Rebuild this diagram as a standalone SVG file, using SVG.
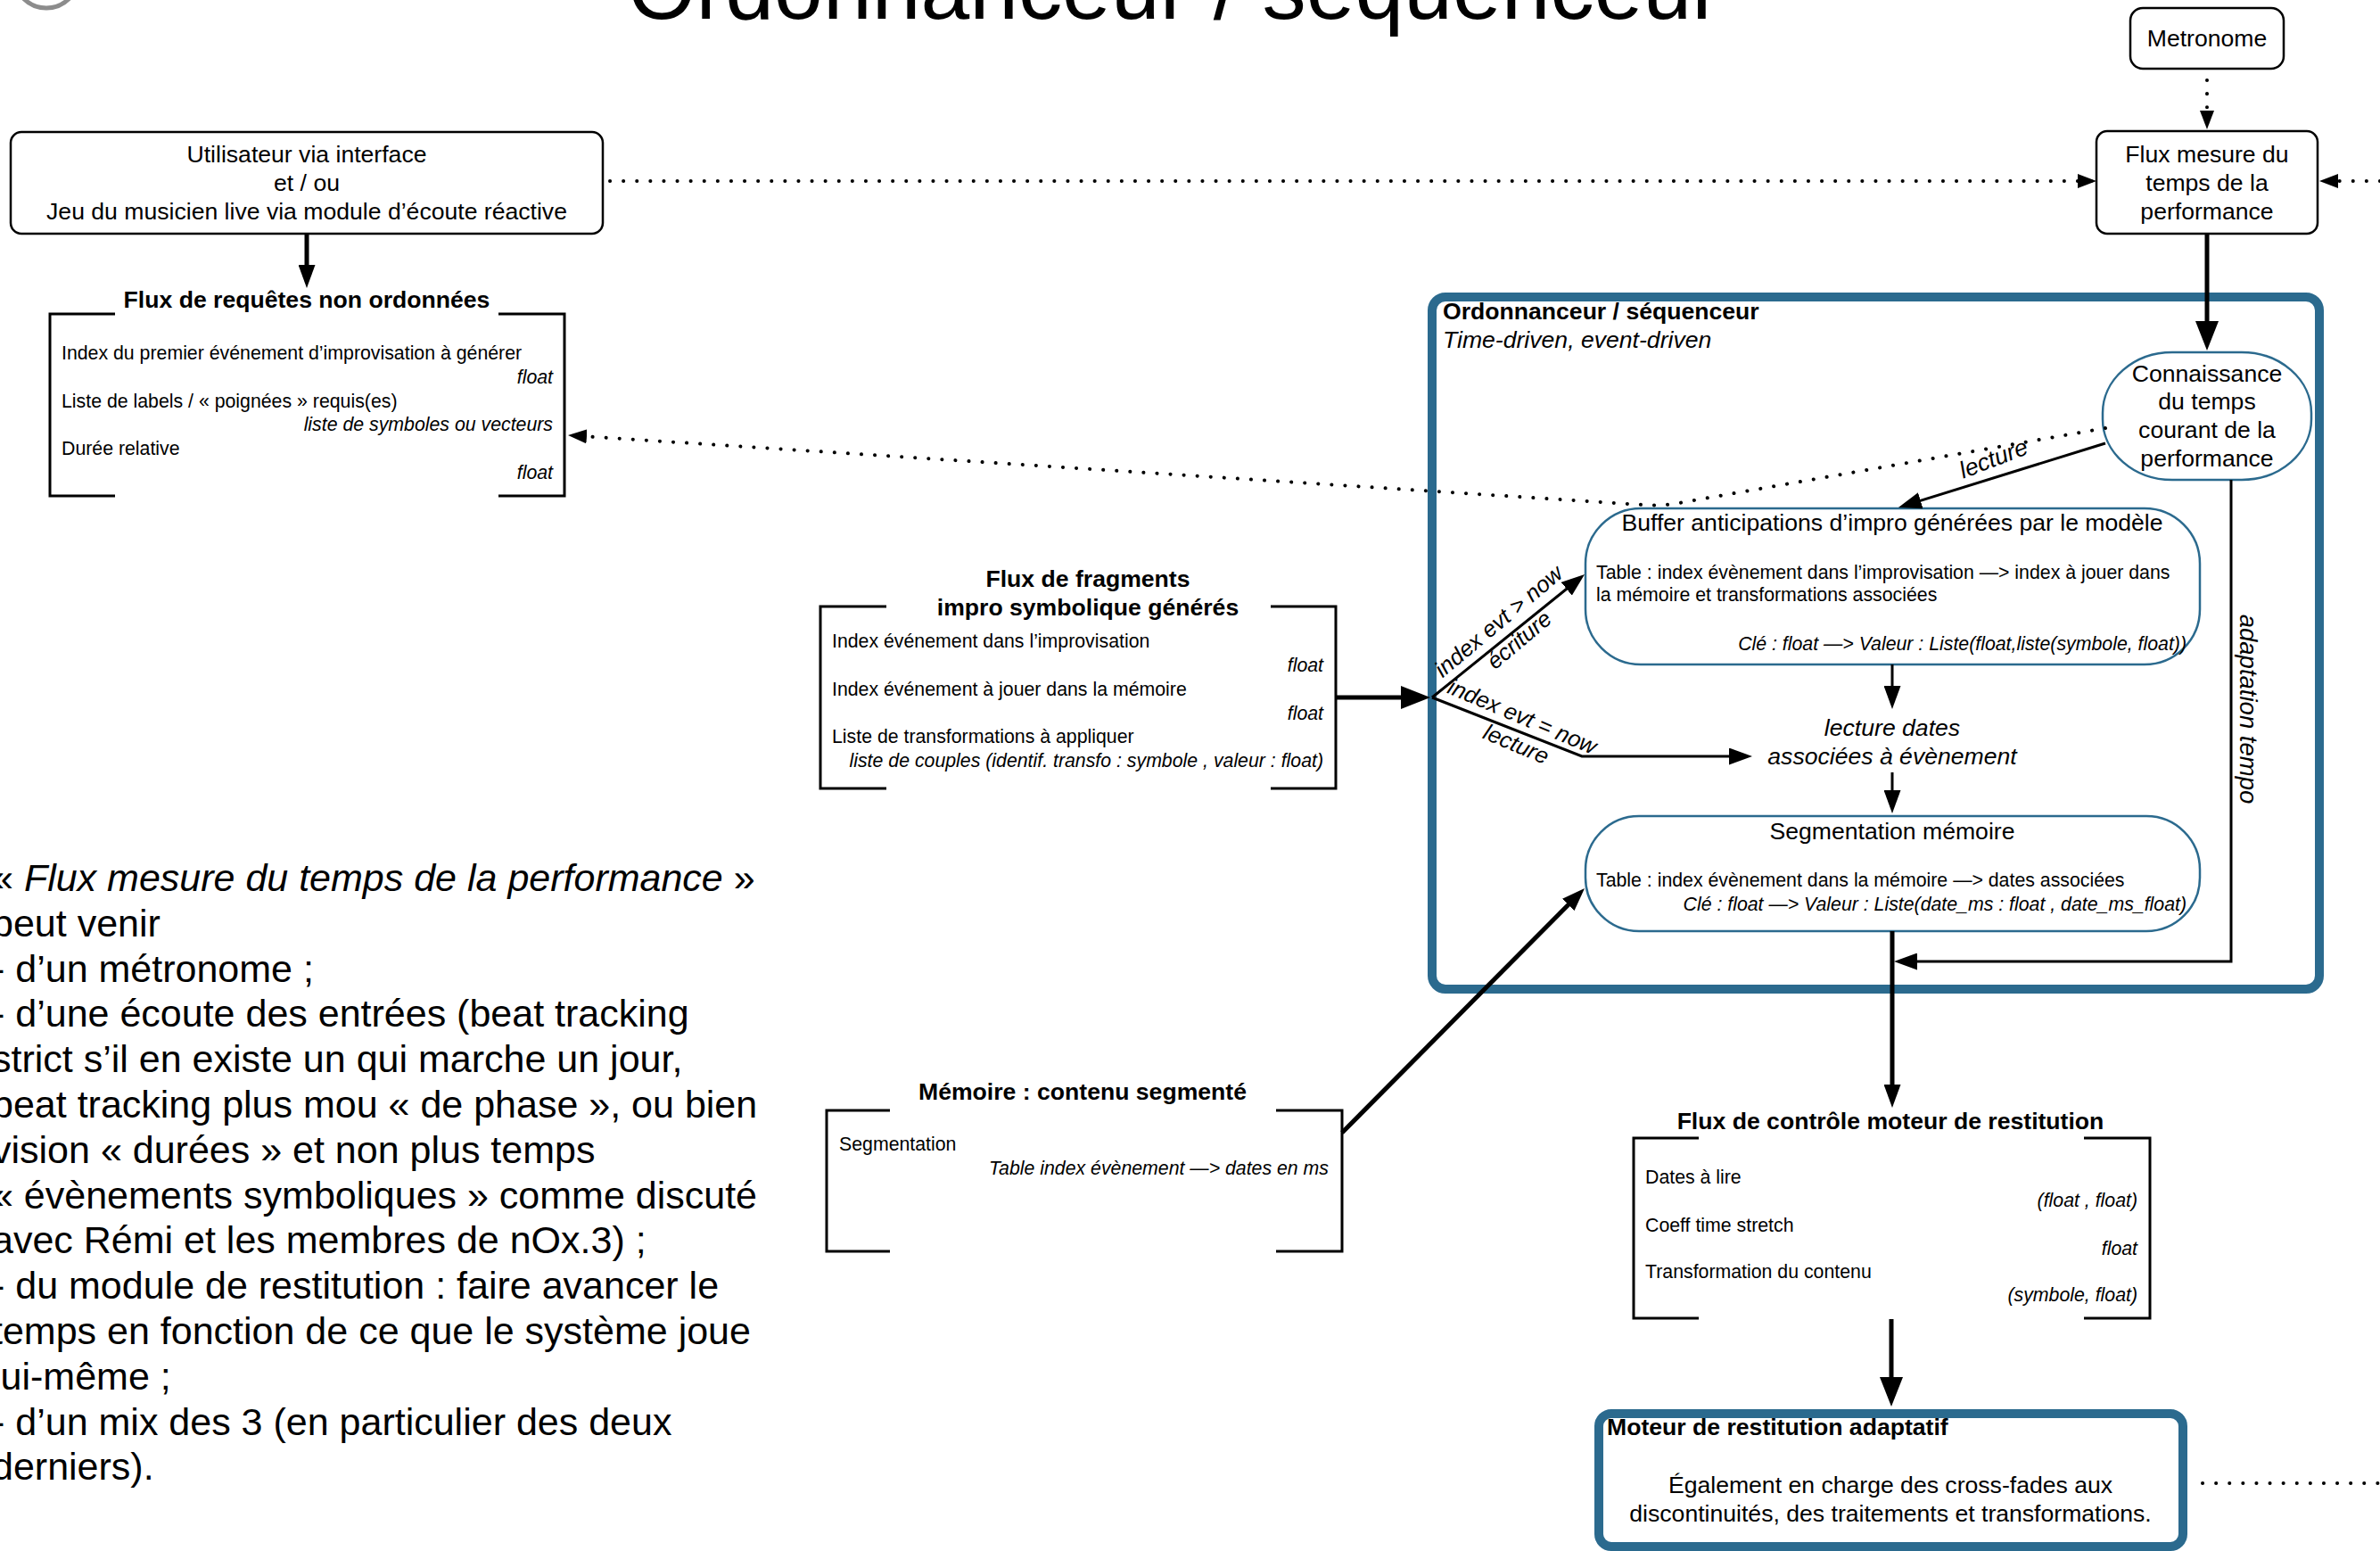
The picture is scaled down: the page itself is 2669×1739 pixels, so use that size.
<svg xmlns="http://www.w3.org/2000/svg" width="2669" height="1739" viewBox="0 0 2669 1739">
  <style>
    text { font-family: "Liberation Sans", Arial, Helvetica, sans-serif; fill: #000; }
    .n25 { font-size: 26.6px; }
    .b25 { font-size: 26.6px; font-weight: bold; }
    .i25 { font-size: 26.6px; font-style: italic; }
    .i24 { font-size: 25.6px; font-style: italic; }
    .n20 { font-size: 21.3px; }
    .i20 { font-size: 21.3px; font-style: italic; }
    .mid { text-anchor: middle; }
    .end { text-anchor: end; }
    .box { fill: #fff; stroke: #000; stroke-width: 2.5; }
    .bluebox { fill: #fff; stroke: #2b6a8e; stroke-width: 2.5; }
    .bluecont { fill: none; stroke: #2b6a8e; stroke-width: 10; }
    .bracket { fill: none; stroke: #000; stroke-width: 3; }
    .thick { fill: none; stroke: #000; stroke-width: 5; }
    .thin { fill: none; stroke: #000; stroke-width: 3; }
    .dot { fill: none; stroke: #000; stroke-width: 4; stroke-dasharray: 0.1 15; stroke-linecap: round; }
    .note { font-size: 43px; }
  </style>
  <defs>
    <marker id="ah" markerUnits="userSpaceOnUse" markerWidth="26" markerHeight="19" refX="18" refY="9.5" orient="auto">
      <path d="M0,0 L26,9.5 L0,19 z" fill="#000"/>
    </marker>
    <marker id="ah-lg" markerUnits="userSpaceOnUse" markerWidth="33" markerHeight="26" refX="25" refY="13" orient="auto">
      <path d="M0,0 L33,13 L0,26 z" fill="#000"/>
    </marker>
    <marker id="ah-dot" markerUnits="userSpaceOnUse" markerWidth="21" markerHeight="16" refX="21" refY="8" orient="auto">
      <path d="M0,0 L21,8 L0,16 z" fill="#000"/>
    </marker>
  </defs>

  <rect width="2669" height="1739" fill="#fff"/>

  <!-- page heading -->
  <circle cx="52" cy="-27" r="36" fill="none" stroke="#8c8c8c" stroke-width="5"/>
  <text x="704" y="21" font-size="99" textLength="1226" lengthAdjust="spacingAndGlyphs">Ordonnanceur / séquenceur</text>

  <!-- scheduler container -->
  <g id="ordonnanceur">
    <rect class="bluecont" x="1606" y="333" width="995" height="776" rx="15"/>
    <text class="b25" x="1618" y="358">Ordonnanceur / séquenceur</text>
    <text class="i25" x="1618" y="390">Time-driven, event-driven</text>
  </g>

  <g id="utilisateur">
    <rect class="box" x="12" y="148" width="664" height="114" rx="12"/>
    <text class="n25 mid" x="344" y="182">Utilisateur via interface</text>
    <text class="n25 mid" x="344" y="214">et / ou</text>
    <text class="n25 mid" x="344" y="246">Jeu du musicien live via module d’écoute réactive</text>
  </g>

  <g id="metronome">
    <rect class="box" x="2389" y="9" width="172" height="68" rx="14"/>
    <text class="n25 mid" x="2475" y="52">Metronome</text>
  </g>

  <g id="flux-mesure">
    <rect class="box" x="2351" y="147" width="248" height="115" rx="12"/>
    <text class="n25 mid" x="2475" y="182">Flux mesure du</text>
    <text class="n25 mid" x="2475" y="214">temps de la</text>
    <text class="n25 mid" x="2475" y="246">performance</text>
  </g>

  <g id="flux-requetes">
    <path class="bracket" d="M129,352 H56 V556 H129 M559,352 H633 V556 H559"/>
    <text class="b25 mid" x="344" y="345">Flux de requêtes non ordonnées</text>
    <text class="n20" x="69" y="403">Index du premier événement d’improvisation à générer</text>
    <text class="i20 end" x="620" y="430">float</text>
    <text class="n20" x="69" y="457">Liste de labels / « poignées » requis(es)</text>
    <text class="i20 end" x="620" y="483">liste de symboles ou vecteurs</text>
    <text class="n20" x="69" y="510">Durée relative</text>
    <text class="i20 end" x="620" y="537">float</text>
  </g>

  <g id="connaissance">
    <rect class="bluebox" x="2358" y="395" width="234" height="143" rx="78" ry="68"/>
    <text class="n25 mid" x="2475" y="428">Connaissance</text>
    <text class="n25 mid" x="2475" y="459">du temps</text>
    <text class="n25 mid" x="2475" y="491">courant de la</text>
    <text class="n25 mid" x="2475" y="523">performance</text>
  </g>

  <g id="buffer">
    <rect class="bluebox" x="1778" y="570" width="689" height="175" rx="62" ry="62"/>
    <text class="n25 mid" x="2122" y="595">Buffer anticipations d’impro générées par le modèle</text>
    <text class="n20" x="1790" y="649">Table : index évènement dans l’improvisation —&gt; index à jouer dans</text>
    <text class="n20" x="1790" y="674">la mémoire et transformations associées</text>
    <text class="i20 end" x="2452" y="729">Clé : float —&gt; Valeur : Liste(float,liste(symbole, float))</text>
  </g>

  <g id="lecture-dates">
    <text class="i25 mid" x="2122" y="825">lecture dates</text>
    <text class="i25 mid" x="2122" y="857">associées à évènement</text>
  </g>

  <g id="segmentation">
    <rect class="bluebox" x="1778" y="915" width="689" height="129" rx="60" ry="60"/>
    <text class="n25 mid" x="2122" y="941">Segmentation mémoire</text>
    <text class="n20" x="1790" y="994">Table : index évènement dans la mémoire —&gt; dates associées</text>
    <text class="i20 end" x="2452" y="1021">Clé : float —&gt; Valeur : Liste(date_ms : float , date_ms_float)</text>
  </g>

  <g id="flux-fragments">
    <path class="bracket" d="M994,680 H920 V884 H994 M1425,680 H1498 V884 H1425"/>
    <text class="b25 mid" x="1220" y="658">Flux de fragments</text>
    <text class="b25 mid" x="1220" y="690">impro symbolique générés</text>
    <text class="n20" x="933" y="726">Index événement dans l’improvisation</text>
    <text class="i20 end" x="1484" y="753">float</text>
    <text class="n20" x="933" y="780">Index événement à jouer dans la mémoire</text>
    <text class="i20 end" x="1484" y="807">float</text>
    <text class="n20" x="933" y="833">Liste de transformations à appliquer</text>
    <text class="i20 end" x="1484" y="860">liste de couples (identif. transfo : symbole , valeur : float)</text>
  </g>

  <g id="memoire">
    <path class="bracket" d="M998,1245 H927 V1403 H998 M1431,1245 H1505 V1403 H1431"/>
    <text class="b25 mid" x="1214" y="1233">Mémoire : contenu segmenté</text>
    <text class="n20" x="941" y="1290">Segmentation</text>
    <text class="i20 end" x="1490" y="1317">Table index évènement —&gt; dates en ms</text>
  </g>

  <g id="flux-controle">
    <path class="bracket" d="M1905,1276 H1832 V1478 H1905 M2337,1276 H2411 V1478 H2337"/>
    <text class="b25 mid" x="2120" y="1266">Flux de contrôle moteur de restitution</text>
    <text class="n20" x="1845" y="1327">Dates à lire</text>
    <text class="i20 end" x="2397" y="1353">(float , float)</text>
    <text class="n20" x="1845" y="1381">Coeff time stretch</text>
    <text class="i20 end" x="2397" y="1407">float</text>
    <text class="n20" x="1845" y="1433">Transformation du contenu</text>
    <text class="i20 end" x="2397" y="1459">(symbole, float)</text>
  </g>

  <g id="moteur">
    <rect class="bluecont" x="1793" y="1585" width="655" height="149" rx="14" fill="#fff"/>
    <text class="b25" x="1802" y="1609">Moteur de restitution adaptatif</text>
    <text class="n25 mid" x="2120" y="1674">Également en charge des cross-fades aux</text>
    <text class="n25 mid" x="2120" y="1706">discontinuités, des traitements et transformations.</text>
  </g>

  <g id="note">
    <text class="note" x="-9" y="999"><tspan>« </tspan><tspan font-style="italic">Flux mesure du temps de la performance</tspan><tspan> »</tspan></text>
    <text class="note" x="-9" y="1050">peut venir</text>
    <text class="note" x="-9" y="1101">- d’un métronome ;</text>
    <text class="note" x="-9" y="1151">- d’une écoute des entrées (beat tracking</text>
    <text class="note" x="-9" y="1202">strict s’il en existe un qui marche un jour,</text>
    <text class="note" x="-9" y="1253">beat tracking plus mou « de phase », ou bien</text>
    <text class="note" x="-9" y="1304">vision « durées » et non plus temps</text>
    <text class="note" x="-9" y="1355">« évènements symboliques » comme discuté</text>
    <text class="note" x="-9" y="1405">avec Rémi et les membres de nOx.3) ;</text>
    <text class="note" x="-9" y="1456">- du module de restitution : faire avancer le</text>
    <text class="note" x="-9" y="1507">temps en fonction de ce que le système joue</text>
    <text class="note" x="-9" y="1558">lui-même ;</text>
    <text class="note" x="-9" y="1609">- d’un mix des 3 (en particulier des deux</text>
    <text class="note" x="-9" y="1659">derniers).</text>
  </g>

  <g id="connectors">
    <path class="thick" d="M344,262 V315" marker-end="url(#ah)"/>
    <path class="dot" d="M684,203 H2351" marker-end="url(#ah-dot)"/>
    <path class="dot" d="M2475,90 V145" marker-end="url(#ah-dot)"/>
    <path class="dot" d="M2669,203 H2601" marker-end="url(#ah-dot)"/>
    <path class="thick" d="M2475,262 V385" marker-end="url(#ah-lg)"/>
    <path class="thin" d="M2361,497 L2136.6,566.6" marker-end="url(#ah)"/>
    <path class="dot" d="M2361,480 L1888,563 Q1865,568 1842,566 L637,488" marker-end="url(#ah-dot)"/>
    <path class="thick" d="M1498,782 H1596" marker-end="url(#ah-lg)"/>
    <path class="thin" d="M1606,782 L1770.8,649" marker-end="url(#ah)"/>
    <path class="thin" d="M1606,782 L1774,848 H1957" marker-end="url(#ah)"/>
    <path class="thin" d="M2122,745 V787" marker-end="url(#ah)"/>
    <path class="thin" d="M2122,866 V904" marker-end="url(#ah)"/>
    <path class="thin" d="M2502,538 V1078 H2132" marker-end="url(#ah)"/>
    <path class="thick" d="M2122,1044 V1234" marker-end="url(#ah)"/>
    <path class="thick" d="M1505,1270 L1771.4,1001.7" marker-end="url(#ah)"/>
    <path class="thick" d="M2121,1479 V1569" marker-end="url(#ah-lg)"/>
    <path class="dot" d="M2470,1663 H2669"/>
    <text class="i25" transform="translate(2236,515) rotate(-21)" text-anchor="middle" dy="8">lecture</text>
    <text class="i24" transform="translate(1681,697) rotate(-40)" text-anchor="middle" dy="8">index evt &gt; now</text>
    <text class="i24" transform="translate(1704,718) rotate(-40)" text-anchor="middle" dy="8">écriture</text>
    <text class="i24" transform="translate(1707,804) rotate(23)" text-anchor="middle" dy="8">index evt = now</text>
    <text class="i24" transform="translate(1700,835) rotate(23)" text-anchor="middle" dy="8">lecture</text>
    <text transform="translate(2512,795) rotate(90)" text-anchor="middle" font-size="27.5" font-style="italic">adaptation tempo</text>
  </g>
</svg>
